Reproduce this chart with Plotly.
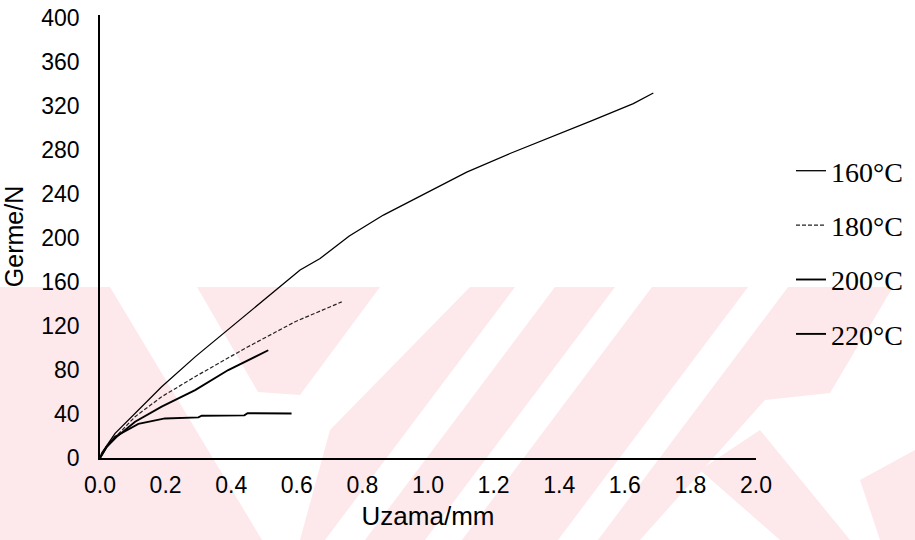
import plotly.graph_objects as go

# Load–elongation curves at four processing temperatures
series_names = ["160°C", "180°C", "200°C", "220°C"]

strain_160 = [0, 0.005, 0.046, 0.117, 0.188, 0.29, 0.412, 0.534, 0.61, 0.671, 0.76, 0.864, 1.0, 1.118, 1.25, 1.372, 1.5, 1.626, 1.687]
load_160 = [0, 4.5, 22.4, 43.6, 64.8, 92, 122.4, 152.7, 171, 181.5, 202, 221, 242, 260, 277, 292, 307, 322.4, 332]

strain_180 = [0, 0.02, 0.05, 0.107, 0.188, 0.29, 0.442, 0.595, 0.737]
load_180 = [0, 11, 20, 37.6, 55.7, 74, 99.7, 124, 142]

strain_200 = [0, 0.02, 0.05, 0.107, 0.188, 0.29, 0.391, 0.513]
load_200 = [0, 10, 19, 33, 46.7, 61.8, 80, 98]

strain_220 = [0, 0.02, 0.046, 0.117, 0.198, 0.3, 0.31, 0.44, 0.45, 0.584]
load_220 = [0, 10, 19.4, 31, 36, 37, 38.5, 38.8, 40.8, 40.5]

x_ticks = [0.0, 0.2, 0.4, 0.6, 0.8, 1.0, 1.2, 1.4, 1.6, 1.8, 2.0]
y_ticks = [0, 40, 80, 120, 160, 200, 240, 280, 320, 360, 400]

W, H = 915, 540
L, R, T, B = 100, 159, 15, 82

line_styles = [
    dict(color="black", width=1.3),
    dict(color="#222222", width=1.2, dash="4px,2px"),
    dict(color="black", width=1.9),
    dict(color="black", width=1.9),
]

fig = go.Figure()
for name, xs, ys, st in zip(series_names,
                            [strain_160, strain_180, strain_200, strain_220],
                            [load_160, load_180, load_200, load_220],
                            line_styles):
    fig.add_trace(go.Scatter(x=xs, y=ys, mode="lines", name=name, line=st,
                             legendgroup=name))


def px(x, y):
    # pixel position on the page -> paper coordinates
    return (x - L) / (W - L - R), (H - B - y) / (H - T - B)


def poly(points):
    pts = [px(x, y) for x, y in points]
    d = "M " + " L ".join(f"{a:.4f},{b:.4f}" for a, b in pts) + " Z"
    return dict(type="path", path=d, xref="paper", yref="paper",
                fillcolor="#fde8ec", line=dict(width=0), layer="below")


# light pink chevron background pattern
shapes = [
    poly([(0, 287), (110, 287), (262, 540), (0, 540)]),
    poly([(197, 287), (380, 287), (300, 395), (258, 392)]),
    poly([(330, 430), (470, 287), (515, 287), (325, 540), (300, 540)]),
    poly([(555, 287), (615, 287), (425, 540), (365, 540)]),
    poly([(652, 287), (748, 287), (558, 540), (462, 540)]),
    poly([(788, 287), (893, 287), (830, 393), (765, 400), (640, 540), (598, 540)]),
    poly([(700, 470), (760, 430), (850, 540), (780, 540)]),
    poly([(860, 480), (915, 450), (915, 540), (880, 540)]),
]

tick_font = dict(family="Liberation Sans, Arial, sans-serif", size=23)

fig.update_layout(
    width=W, height=H,
    margin=dict(l=L, r=R, t=T, b=B, autoexpand=False),
    paper_bgcolor="white", plot_bgcolor="rgba(0,0,0,0)",
    shapes=shapes,
    showlegend=True,
    legend=dict(
        x=(791 - L) / (W - L - R), xanchor="left",
        y=px(0, 146)[1], yanchor="top",
        bgcolor="rgba(0,0,0,0)",
        font=dict(family="Liberation Serif, Times New Roman, serif", size=28, color="black"),
        tracegroupgap=15,
        itemwidth=30,
    ),
    font=dict(family="Liberation Sans, Arial, sans-serif", color="black"),
    xaxis=dict(
        range=[0, 2.0], tickvals=x_ticks, ticktext=[f"{v:.1f}" for v in x_ticks],
        showgrid=False, zeroline=False, showline=True, linecolor="black", linewidth=1.8,
        ticks="", ticklen=0, ticklabelstandoff=5,
        tickfont=tick_font,
        title=dict(text="Uzama/mm", font=dict(size=26), standoff=10),
    ),
    yaxis=dict(
        range=[0, 403], tickvals=y_ticks,
        showgrid=False, zeroline=False, showline=True, linecolor="black", linewidth=1.8,
        ticks="", ticklen=0, ticklabelstandoff=14,
        tickfont=tick_font,
        title=dict(text="Germe/N", font=dict(size=25), standoff=12),
    ),
)

fig.write_html("out.html")
